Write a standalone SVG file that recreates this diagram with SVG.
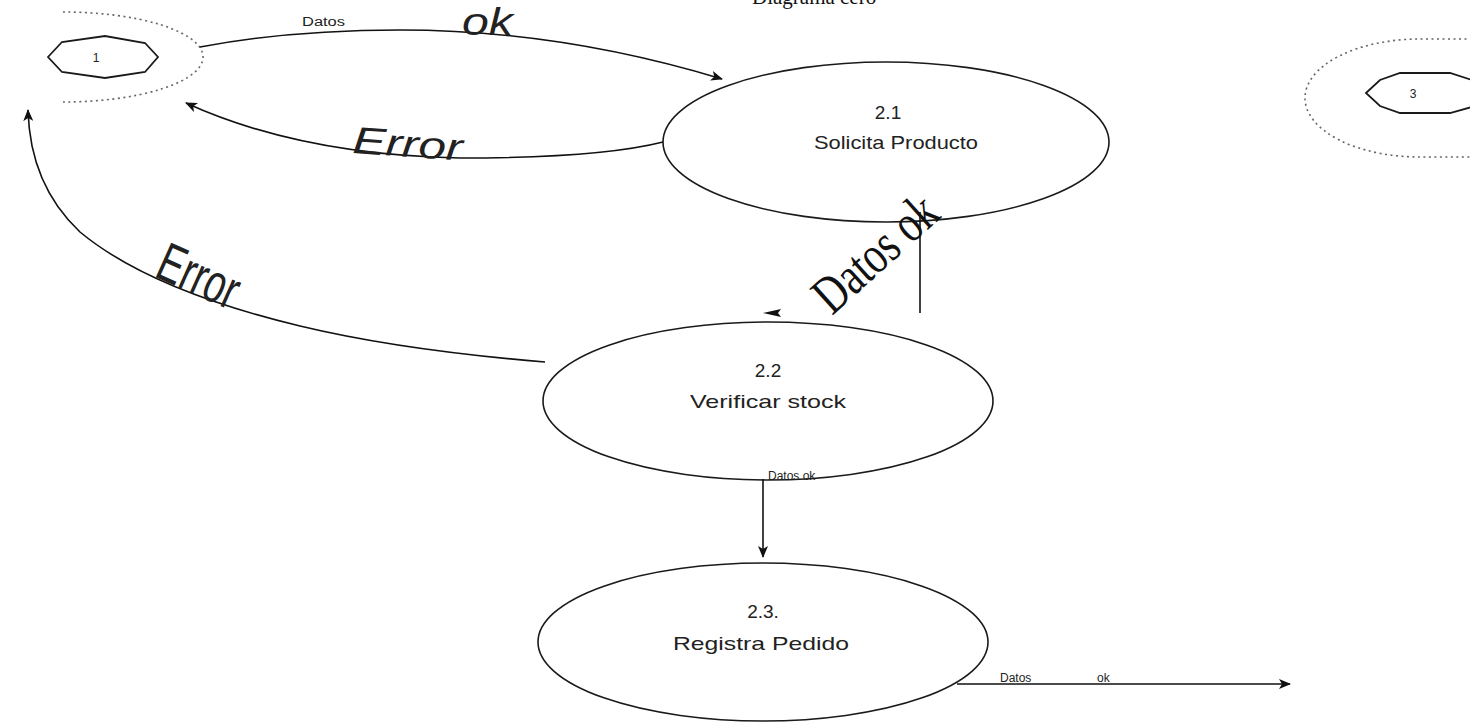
<svg xmlns="http://www.w3.org/2000/svg" width="1470" height="725" viewBox="0 0 1470 725">
  <style>
    .bubble { fill: #fff; stroke: #1a1a1a; stroke-width: 1.6; }
    .ext { fill: #fff; stroke: #1a1a1a; stroke-width: 1.8; }
    .scope { fill: none; stroke: #666; stroke-width: 1.6; stroke-dasharray: 2 3.5; }
    .flow { fill: none; stroke: #111; stroke-width: 1.6; }
    .lbl { font-family: "Liberation Sans", Arial, sans-serif; fill: #222; }
    .serif { font-family: "Liberation Serif", "Times New Roman", serif; fill: #111; }
  </style>
  <defs>
    <marker id="arrow" viewBox="0 0 12 10" refX="11" refY="5" markerWidth="12" markerHeight="10" markerUnits="userSpaceOnUse" orient="auto">
      <path d="M0,0 L12,5 L0,10 L3,5 Z" fill="#111"/>
    </marker>
  </defs>

  <rect width="1470" height="725" fill="#fff"/>

  <!-- title, mostly above the page edge -->
  <text class="serif" x="752" y="4" font-size="21">Diagrama cero</text>

  <!-- external entity 1 with its dotted boundary -->
  <g id="entity-1">
    <path class="scope" d="M63,12 A140 45 0 0 1 63,102"/>
    <polygon class="ext" points="48,57 62,42 105,36 145,43 158,57 145,72 105,78 62,72"/>
    <text class="lbl" x="96" y="62" font-size="12" text-anchor="middle">1</text>
  </g>

  <!-- external entity 3 with its dotted boundary -->
  <g id="entity-3">
    <path class="scope" d="M1472,39 L1420,39 A115 59 0 0 0 1420,157 L1472,157"/>
    <polygon class="ext" points="1366,93 1380,80 1400,73 1450,73 1472,80 1472,107 1450,113 1400,113 1380,106"/>
    <text class="lbl" x="1413" y="98" font-size="12" text-anchor="middle">3</text>
  </g>

  <!-- process 2.1 -->
  <g id="proc-2-1">
    <ellipse class="bubble" cx="886" cy="142" rx="223" ry="80"/>
    <text class="lbl" x="888" y="119" font-size="19" text-anchor="middle">2.1</text>
    <text class="lbl" x="896" y="149" font-size="19" text-anchor="middle" textLength="164" lengthAdjust="spacingAndGlyphs">Solicita Producto</text>
  </g>

  <!-- process 2.2 -->
  <g id="proc-2-2">
    <ellipse class="bubble" cx="768" cy="401" rx="225" ry="79"/>
    <text class="lbl" x="768" y="377" font-size="19" text-anchor="middle">2.2</text>
    <text class="lbl" x="768" y="408" font-size="19" text-anchor="middle" textLength="156" lengthAdjust="spacingAndGlyphs">Verificar stock</text>
  </g>

  <!-- process 2.3 -->
  <g id="proc-2-3">
    <ellipse class="bubble" cx="763" cy="642" rx="225" ry="79"/>
    <text class="lbl" x="763" y="618" font-size="19" text-anchor="middle">2.3.</text>
    <text class="lbl" x="761" y="650" font-size="19" text-anchor="middle" textLength="176" lengthAdjust="spacingAndGlyphs">Registra Pedido</text>
  </g>

  <!-- data flows -->
  <g id="flows">
    <!-- 1 -> 2.1 -->
    <path class="flow" d="M200,47 Q290,30 400,30 Q560,30 722,79" marker-end="url(#arrow)"/>
    <text class="lbl" x="302" y="26" font-size="12" textLength="43" lengthAdjust="spacingAndGlyphs">Datos</text>
    <text class="lbl" x="462" y="35" font-size="38" font-style="italic" textLength="51" lengthAdjust="spacingAndGlyphs">ok</text>

    <!-- 2.1 -> 1 (error) -->
    <path class="flow" d="M663,142 Q600,158 460,158 Q300,155 186,103" marker-end="url(#arrow)"/>
    <text class="lbl" font-size="38" font-style="italic" textLength="110" lengthAdjust="spacingAndGlyphs" transform="translate(352,153) rotate(4)">Error</text>

    <!-- 2.2 -> 1 (error) -->
    <path class="flow" d="M545,362 Q400,350 300,326 Q150,290 80,232 Q30,185 28,110" marker-end="url(#arrow)"/>
    <text class="lbl" font-size="55" textLength="84" lengthAdjust="spacingAndGlyphs" transform="translate(153,276) rotate(24)">Error</text>

    <!-- 2.1 -> 2.2 -->
    <line class="flow" x1="920" y1="212" x2="920" y2="313"/>
    <path d="M763,313 L781,309 L778,313 L781,317 Z" fill="#111"/>
    <text class="serif" font-size="54" textLength="148" lengthAdjust="spacingAndGlyphs" transform="translate(832,316) rotate(-42)">Datos ok</text>

    <!-- 2.2 -> 2.3 -->
    <line class="flow" x1="763" y1="479" x2="763" y2="557" marker-end="url(#arrow)"/>
    <text class="lbl" x="768" y="480" font-size="12">Datos ok</text>

    <!-- 2.3 -> out -->
    <path class="flow" d="M957,684 L1290,684" marker-end="url(#arrow)"/>
    <text class="lbl" x="1000" y="682" font-size="12">Datos</text>
    <text class="lbl" x="1097" y="682" font-size="12">ok</text>
  </g>
</svg>
